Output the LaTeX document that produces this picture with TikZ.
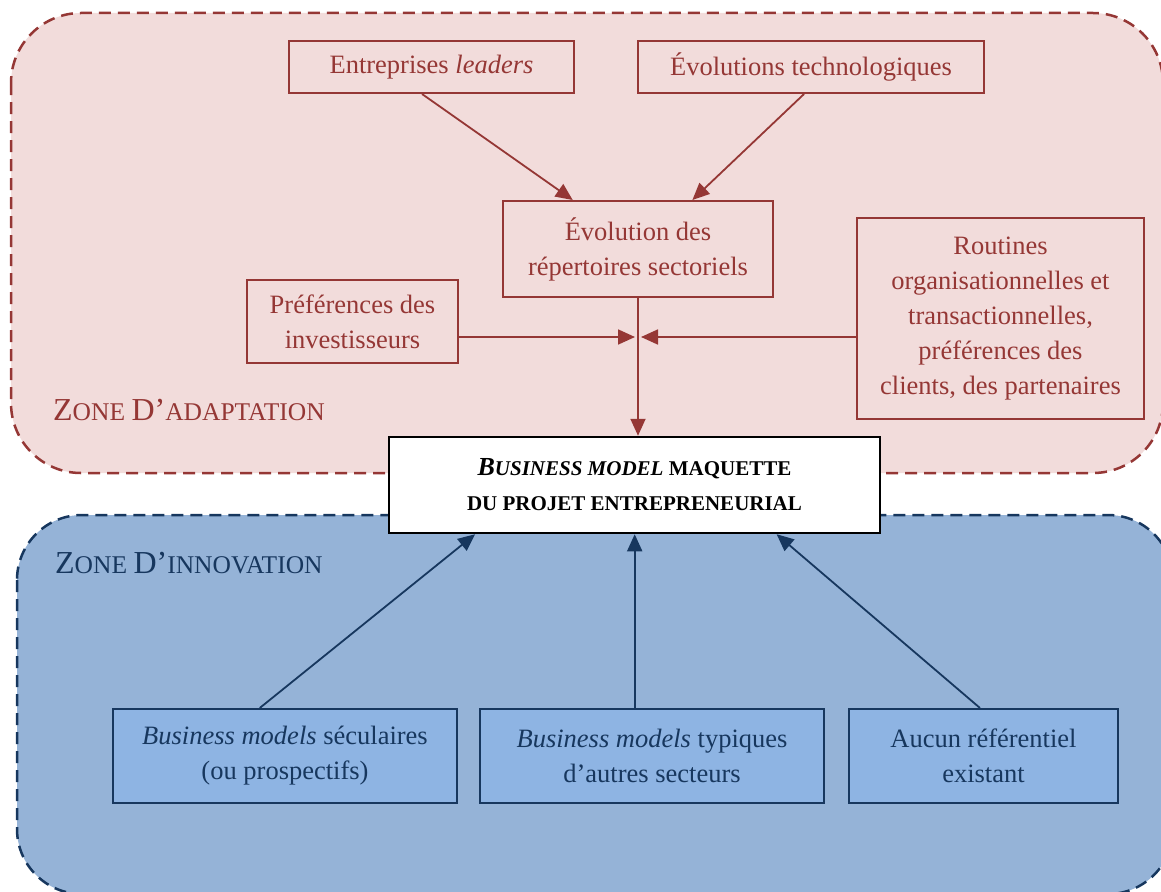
\documentclass[tikz,border=0pt]{standalone}
\usepackage{fontspec}
\setmainfont{Liberation Serif}
\usetikzlibrary{arrows.meta,calc}
\definecolor{rdark}{HTML}{953735}
\definecolor{rfill}{HTML}{F2DCDB}
\definecolor{bdark}{HTML}{17375E}
\definecolor{bzone}{HTML}{95B3D7}
\definecolor{bbox}{HTML}{8EB4E3}
\newcommand{\zbig}{\fontsize{32}{38}\selectfont}
\newcommand{\zsmall}{\fontsize{25.5}{30}\selectfont}
\newcommand{\bmsmall}{\fontsize{21}{35}\selectfont}
\begin{document}
\begin{tikzpicture}[x=1pt,y=-1pt,
 txt/.style={font=\fontsize{26.5}{35}\selectfont, align=center, inner sep=0pt},
 redbox/.style={txt, draw=rdark, line width=2pt, fill=rfill, text=rdark},
 bluebox/.style={txt, draw=bdark, line width=2pt, fill=bbox, text=bdark},
 rarrow/.style={draw=rdark, line width=1.8pt, -{Triangle[length=17pt,width=15pt]}},
 barrow/.style={draw=bdark, line width=1.8pt, -{Triangle[length=17pt,width=15pt]}},
 zone/.style={dash pattern=on 12pt off 7pt, line width=2.5pt},
]
\useasboundingbox (0,0) rectangle (1161,891);
\clip (0,0) rectangle (1161,891);
% zones
\draw[zone, draw=rdark, fill=rfill, rounded corners=70pt] (11,13) rectangle (1163,473);
\draw[zone, draw=bdark, fill=bzone, rounded corners=65pt] (17,515) rectangle (1173,894);
% zone labels
\node[anchor=base west, inner sep=0pt, text=rdark] (za) at (53,420)
  {\zbig Z\zsmall ONE \zbig D’\zsmall ADAPTATION};
\node[anchor=base west, inner sep=0pt, text=bdark] (zi) at (55,573)
  {\zbig Z\zsmall ONE \zbig D’\zsmall INNOVATION};
% red boxes
\node[redbox, minimum width=285pt, minimum height=52pt] (ent) at (431.5,67) {Entreprises \textit{leaders}};
\node[redbox, minimum width=346pt, minimum height=52pt] (tech) at (811,67) {Évolutions technologiques};
\node[redbox, minimum width=270pt, minimum height=96pt] (evo) at (638,249) {Évolution des\\répertoires sectoriels};
\node[redbox, minimum width=211pt, minimum height=83pt] (pref) at (352.5,321.5) {Préférences des\\investisseurs};
\node[redbox, minimum width=287pt, minimum height=201pt] (rout) at (1000.5,318.5)
  {Routines\\organisationnelles et\\transactionnelles,\\préférences des\\clients, des partenaires};
% central box
\node[txt, draw=black, line width=2.5pt, fill=white, minimum width=491pt, minimum height=96pt] (bm) at (634.5,485)
  {\bfseries\itshape{\fontsize{26}{35}\selectfont B}\bmsmall USINESS MODEL \upshape MAQUETTE\\
   \bfseries\bmsmall DU PROJET ENTREPRENEURIAL};
% blue boxes
\node[bluebox, minimum width=344pt, minimum height=94pt] (b1) at (285,756) {\textit{Business models} séculaires\\(ou prospectifs)};
\node[bluebox, minimum width=344pt, minimum height=94pt] (b2) at (652,756) {\textit{Business models} typiques\\d’autres secteurs};
\node[bluebox, minimum width=269pt, minimum height=94pt] (b3) at (983.5,756) {Aucun référentiel\\existant};
% red arrows
\draw[rarrow] ($(ent.south west)!0.467!(ent.south east)$) -- ($(evo.north west)!0.26!(evo.north east)$);
\draw[rarrow] ($(tech.south west)!0.48!(tech.south east)$) -- ($(evo.north west)!0.70!(evo.north east)$);
\coordinate (j) at ($(evo.south)+(0,39)$);
\draw[rarrow] (evo.south) -- (evo.south |- bm.north);
\draw[rarrow] (pref.east |- j) -- ([xshift=-3pt]j);
\draw[rarrow] (rout.west |- j) -- ([xshift=3pt]j);
% blue arrows
\coordinate (b2t) at ($(b2.north west)!0.45!(b2.north east)$);
\draw[barrow] ($(b1.north west)!0.427!(b1.north east)$) -- ($(bm.south west)!0.177!(bm.south east)$);
\draw[barrow] (b2t) -- (b2t |- bm.south);
\draw[barrow] ($(b3.north west)!0.487!(b3.north east)$) -- ($(bm.south west)!0.788!(bm.south east)$);
\end{tikzpicture}
\end{document}
